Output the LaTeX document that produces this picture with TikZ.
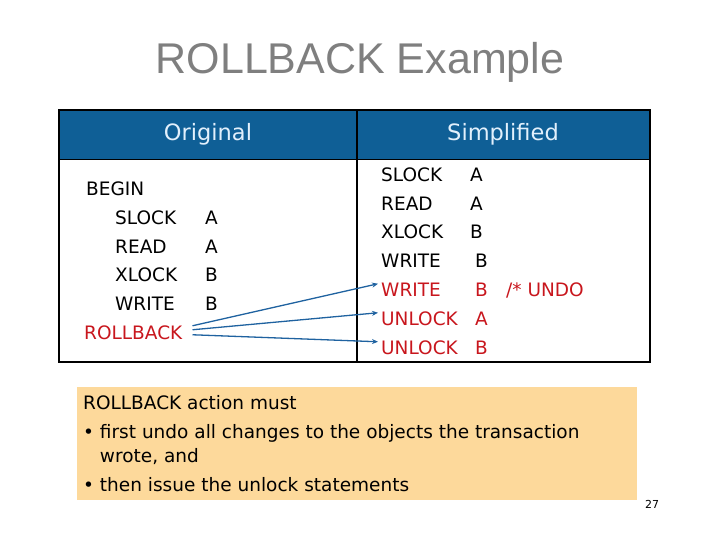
\documentclass[tikz,border=0pt]{standalone}
\usepackage{fontspec}
\setmainfont{DejaVu Sans}
\newfontfamily\titlefont{Liberation Sans}
\usetikzlibrary{arrows.meta}

\definecolor{hdrblue}{HTML}{0F5F96}
\definecolor{hdrtext}{HTML}{E2F0FC}
\definecolor{undored}{HTML}{C8161D}
\definecolor{arrowblue}{HTML}{1F62A0}
\definecolor{notebg}{HTML}{FDD99B}
\definecolor{titlegray}{HTML}{7F7F7F}

\tikzset{
  cmd/.style={anchor=base west, inner sep=0pt, font=\fontsize{18.5}{21}\selectfont},
  undo/.style={cmd, text=undored},
  hdr/.style={inner sep=0pt, text=hdrtext, font=\fontsize{22.5}{26}\selectfont},
  link/.style={arrowblue, line width=1.3pt, -{Stealth[length=6pt, width=5pt]}}
}

\begin{document}
\begin{tikzpicture}[x=1pt, y=-1pt]
\useasboundingbox (0,0) rectangle (720,540);

% Title
\node[text=titlegray, font=\titlefont\fontsize{43}{48}\selectfont] (title) at (360,62) {ROLLBACK Example};

% Table: header band and frame
\fill[hdrblue] (59,110) rectangle (650,160);
\draw[line width=1.6pt] (59,110) rectangle (650,362);
\draw[line width=1.2pt] (357,110) -- (357,362);
\draw[line width=1pt] (59,160) -- (650,160);
\node[hdr] (hleft) at (208,134) {Original};
\node[hdr] (hright) at (503,134) {Simplified};

% Original transaction
\node[cmd] (begin) at (86,195.5) {BEGIN};
\foreach \op/\arg/\yb/\nm in {SLOCK/A/224.5/o1, READ/A/253.5/o2, XLOCK/B/281.5/o3, WRITE/B/310.5/o4} {
  \node[cmd] (\nm) at (115,\yb) {\op};
  \node[cmd] (\nm a) at (205,\yb) {\arg};
}
\node[undo] (rb) at (84,339.5) {ROLLBACK};

% Simplified transaction
\foreach \op/\arg/\ax/\yb/\nm in {SLOCK/A/470/181.5/s1, READ/A/470/210.5/s2, XLOCK/B/470/238.5/s3, WRITE/B/475/267.5/s4} {
  \node[cmd] (\nm) at (381,\yb) {\op};
  \node[cmd] (\nm a) at (\ax,\yb) {\arg};
}
\node[undo] (wb) at (381,296.5) {WRITE};
\node[undo] (wba) at (475,296.5) {B};
\node[undo] (cmt) at (506,296.5) {/* UNDO};
\node[undo] (ua) at (381,325.5) {UNLOCK};
\node[undo] (uaa) at (475,325.5) {A};
\node[undo] (ub) at (381,354.5) {UNLOCK};
\node[undo] (uba) at (475,354.5) {B};

% Rollback expands to these
\draw[link] ([xshift=10pt, yshift=7pt]rb.east) -- ([xshift=-3pt, yshift=6pt]wb.west);
\draw[link] ([xshift=10pt, yshift=3pt]rb.east) -- ([xshift=-3pt, yshift=6pt]ua.west);
\draw[link] ([xshift=10pt, yshift=-2pt]rb.east) -- ([xshift=-3pt, yshift=6pt]ub.west);

% Note box
\fill[notebg] (77,387) rectangle (637,500);
\node[anchor=north west, align=left, inner sep=0pt, font=\fontsize{18.5}{24}\selectfont] (note) at (83,395)
  {ROLLBACK action must\\[5pt]
   \textbullet\ first undo all changes to the objects the transaction\\
   \hphantom{\textbullet\ }wrote, and\\[5pt]
   \textbullet\ then issue the unlock statements};

% Page number
\node[font=\fontsize{11}{13}\selectfont] (pg) at (652,504) {27};

\end{tikzpicture}
\end{document}
